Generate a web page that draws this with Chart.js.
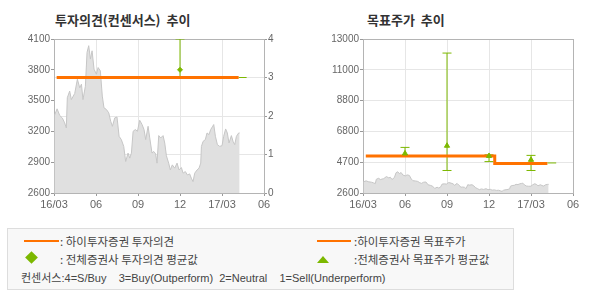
<!DOCTYPE html>
<html>
<head>
<meta charset="utf-8">
<script src="https://cdn.jsdelivr.net/npm/chart.js@4.4.0/dist/chart.umd.min.js"></script>
<style>
  body { margin: 0; width: 590px; height: 300px; background: #fff; position: relative; overflow: hidden;
         font-family: "Noto Sans CJK KR", sans-serif; }
  canvas { position: absolute; top: 0; }
  .title { position: absolute; top: 10px; font-size: 13px; font-weight: bold; color: #333; word-spacing: 3px; }
  #legend { position: absolute; left: 7px; top: 228px; width: 507px; height: 62px; box-sizing: border-box;
            border: 1px solid #ddd; background: #f8f8f8; }
  #legend .txt { position: absolute; font-size: 11.5px; color: #444; line-height: 14px; white-space: pre; }
  #legend .line { position: absolute; height: 2px; background: #ff7200; }
  #legend .diamond { position: absolute; width: 9px; height: 9px; background: #7cb800; transform: rotate(45deg); }
  #legend .tri { position: absolute; width: 0; height: 0; border-left: 6px solid transparent;
                 border-right: 6px solid transparent; border-bottom: 7px solid #7cb800; }
  #legend .note { font-family: "Liberation Sans", "Noto Sans CJK KR", sans-serif; font-size: 11px; color: #444; }
</style>
</head>
<body>
<div class="title" style="left:55px">투자의견(컨센서스) 추이</div>
<div class="title" style="left:367px">목표주가 추이</div>
<canvas id="opinionChart" width="295" height="215" style="left:0"></canvas>
<canvas id="targetChart" width="300" height="215" style="left:290px"></canvas>

<div id="legend">
  <div class="line" style="left:16px; top:11px; width:35px"></div>
  <div class="txt" style="left:52px; top:5px">: 하이투자증권 투자의견</div>
  <div class="line" style="left:309px; top:11px; width:34px"></div>
  <div class="txt" style="left:346px; top:5px">:하이투자증권 목표주가</div>
  <div class="diamond" style="left:19px; top:24px"></div>
  <div class="txt" style="left:52px; top:23px">: 전체증권사 투자의견 평균값</div>
  <div class="tri" style="left:309px; top:27px"></div>
  <div class="txt" style="left:346px; top:23px">:전체증권사 목표주가 평균값</div>
  <div class="txt note" style="left:13px; top:42px">컨센서스:4=S/Buy    3=Buy(Outperform)  2=Neutral    1=Sell(Underperform)</div>
</div>

<script>
// x axis: months counted from 2016/03
const monthTicks = [0, 3, 6, 9, 12, 15];
const monthLabels = ["16/03", "06", "09", "12", "17/03", "06"];

// share price
const priceMonths = [0.03, 0.22, 0.41, 0.60, 0.76, 0.88, 0.95, 1.12, 1.24, 1.48, 1.67, 1.84, 1.96, 2.07, 2.24,
  2.36, 2.48, 2.60, 2.72, 2.86, 3.03, 3.15, 3.31, 3.45, 3.57, 3.74, 3.91, 4.05, 4.17, 4.34, 4.50, 4.65,
  4.81, 4.98, 5.12, 5.29, 5.41, 5.53, 5.65, 5.81, 5.96, 6.12, 6.29, 6.43, 6.55, 6.72, 6.84, 7.00, 7.12,
  7.26, 7.36, 7.48, 7.62, 7.79, 7.91, 8.03, 8.19, 8.31, 8.45, 8.62, 8.79, 8.93, 9.10, 9.22, 9.38, 9.53,
  9.69, 9.81, 9.93, 10.05, 10.22, 10.36, 10.48, 10.53, 10.65, 10.81, 10.93, 11.07, 11.19, 11.31, 11.41,
  11.53, 11.67, 11.84, 12.00, 12.12, 12.26, 12.38, 12.50, 12.67, 12.79, 12.91, 13.03, 13.19, 13.26];
const prices = [3355, 3420, 3355, 3330, 3283, 3234, 3528, 3593, 3510, 3570, 3708, 3625, 3660, 3510, 3640,
  3970, 4035, 3905, 3985, 3806, 3757, 3822, 3790, 3544, 3430, 3414, 3381, 3299, 3250, 3332, 3340, 3152,
  3120, 3054, 2907, 2989, 2940, 2989, 3201, 3218, 3201, 3309, 3267, 3218, 3120, 3250, 3136, 2989, 3005,
  2982, 2891, 3159, 3136, 3159, 3087, 2963, 2891, 2825, 2874, 2842, 2891, 2825, 2848, 2793, 2809, 2776,
  2786, 2744, 2711, 2793, 2825, 2842, 2891, 3054, 3103, 3120, 3185, 3169, 3218, 3244, 3267,
  3152, 3071, 3054, 3061, 3152, 3224, 3185, 3087, 3159, 3103, 3071, 3152, 3185, 3185];

// left chart: opinion
const priceTicksLeft = [2600, 2900, 3200, 3500, 3800, 4100];
const opinionTicks = [0, 1, 2, 3, 4];
const opinionMonths = [0.19, 13.19];
const opinionValues = [3, 3];
const opinionAvgMonths = [13.19, 13.76];
const opinionAvgValues = [3, 3];
const opinionBarMonths = [9];
const opinionBarLow = [3];
const opinionBarHigh = [4];
const opinionBarMean = [3.2];

// right chart: target price
const targetTicks = [2600, 4680, 6760, 8840, 10920, 13000];
const targetTickLabels = ["2600", "4700", "6800", "8800", "11000", "13000"];
const targetMonths = [0.2, 9.41, 9.41, 13.17];
const targetValues = [5100, 5100, 4600, 4600];
const targetAvgMonths = [13.17, 13.8];
const targetAvgValues = [4630, 4630];
const targetBarMonths = [3, 6, 9, 12];
const targetBarLow = [5100, 4120, 4720, 4120];
const targetBarHigh = [5680, 12050, 5180, 5140];
const targetBarMean = [5270, 5790, 5100, 4840];

const ORANGE = "#ff7200";
const GREEN = "#7cb800";
const GRID = "#e6e6e6";
const EDGE = "#b4b4b4";
const TICK_FONT = { family: "Liberation Sans", size: 10 };

const pts = (xs, ys) => xs.map((x, i) => ({ x, y: ys[i] }));
const bars = (xs, lo, hi) => xs.flatMap((x, i) => [{ x, y: lo[i] }, { x, y: hi[i] }, { x, y: null }]);
const setTicks = (values) => (scale) => { scale.ticks = values.map(v => ({ value: v })); };
const fixWidth = (w) => (scale) => { scale.width = w; };
const edgeColor = (lo, hi) => (ctx) => (ctx.tick && (ctx.tick.value === lo || ctx.tick.value === hi)) ? EDGE : GRID;
const plain = (v) => String(v);

const xScale = {
  type: "linear", min: 0, max: 15,
  afterBuildTicks: setTicks(monthTicks),
  afterFit: (scale) => { scale.height = 22; },
  grid: { color: edgeColor(0, 15), tickColor: "#999", tickLength: 3 },
  border: { color: EDGE },
  ticks: { color: "#666", font: { family: "Liberation Sans", size: 11 }, padding: 2,
           maxRotation: 0, callback: (v) => monthLabels[monthTicks.indexOf(v)] },
};

function priceDataset(axis) {
  return {
    data: pts(priceMonths, prices), yAxisID: axis, order: 10,
    borderColor: "#c6c6c6", borderWidth: 1, backgroundColor: "#e0e0e0",
    fill: "start", pointRadius: 0, tension: 0,
  };
}

const common = {
  responsive: false, animation: false,
  plugins: { legend: { display: false }, tooltip: { enabled: false } },
  elements: { point: { hitRadius: 0 } },
};

new Chart(document.getElementById("opinionChart"), {
  type: "line",
  data: {
    datasets: [
      priceDataset("y"),
      { data: bars(opinionBarMonths, opinionBarLow, opinionBarHigh), yAxisID: "y1", order: 8,
        borderColor: GREEN, borderWidth: 1, pointStyle: "line", pointRadius: 4.5,
        pointBorderColor: GREEN, pointBorderWidth: 1, spanGaps: false },
      { data: pts(opinionAvgMonths, opinionAvgValues), yAxisID: "y1", order: 7,
        borderColor: GREEN, borderWidth: 1, pointRadius: 0 },
      { data: pts(opinionMonths, opinionValues), yAxisID: "y1", order: 6,
        borderColor: ORANGE, borderWidth: 3, pointRadius: 0 },
      { data: pts(opinionBarMonths, opinionBarMean), yAxisID: "y1", order: 4, showLine: false,
        pointStyle: "rectRot", pointRadius: 2.5, backgroundColor: GREEN, borderColor: GREEN, pointBorderWidth: 1 },
    ],
  },
  options: {
    ...common,
    layout: { padding: { top: 39, left: 0, right: 0, bottom: 0 } },
    scales: {
      x: xScale,
      y: {
        position: "left", min: 2600, max: 4100,
        afterBuildTicks: setTicks(priceTicksLeft), afterFit: fixWidth(54),
        grid: { drawOnChartArea: false, tickColor: "#999", tickLength: 3 },
        border: { color: EDGE },
        ticks: { color: "#666", font: TICK_FONT, padding: 1, callback: plain },
      },
      y1: {
        position: "right", min: 0, max: 4,
        afterBuildTicks: setTicks(opinionTicks), afterFit: fixWidth(31),
        grid: { color: edgeColor(0, 4), tickColor: "#999", tickLength: 3 },
        border: { color: EDGE },
        ticks: { color: "#666", font: TICK_FONT, padding: 1, callback: plain },
      },
    },
  },
});

new Chart(document.getElementById("targetChart"), {
  type: "line",
  data: {
    datasets: [
      priceDataset("y"),
      { data: bars(targetBarMonths, targetBarLow, targetBarHigh), order: 8,
        borderColor: GREEN, borderWidth: 1, pointStyle: "line", pointRadius: 4.5,
        pointBorderColor: GREEN, pointBorderWidth: 1, spanGaps: false },
      { data: pts(targetAvgMonths, targetAvgValues), order: 7,
        borderColor: GREEN, borderWidth: 1, pointRadius: 0 },
      { data: pts(targetMonths, targetValues), order: 6,
        borderColor: ORANGE, borderWidth: 3, pointRadius: 0 },
      { data: pts(targetBarMonths, targetBarMean), order: 4, showLine: false,
        pointStyle: "triangle", pointRadius: 3, backgroundColor: GREEN, borderColor: GREEN, pointBorderWidth: 1 },
    ],
  },
  options: {
    ...common,
    layout: { padding: { top: 39, left: 0, right: 17, bottom: 0 } },
    scales: {
      x: xScale,
      y: {
        position: "left", min: 2600, max: 13000,
        afterBuildTicks: setTicks(targetTicks), afterFit: fixWidth(73),
        grid: { color: edgeColor(2600, 13000), tickColor: "#999", tickLength: 3 },
        border: { color: EDGE },
        ticks: { color: "#666", font: TICK_FONT, padding: 1,
                 callback: (v) => targetTickLabels[targetTicks.indexOf(v)] },
      },
    },
  },
});
</script>
</body>
</html>
